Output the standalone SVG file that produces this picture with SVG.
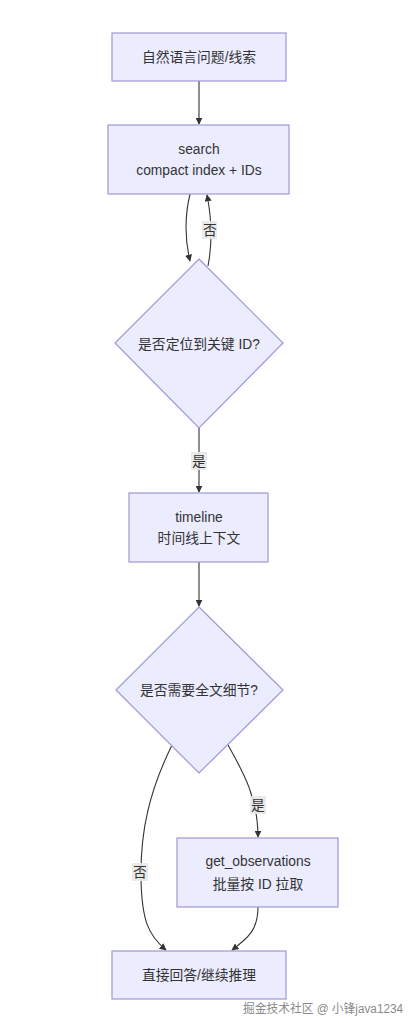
<svg xmlns="http://www.w3.org/2000/svg" width="418" height="1028" viewBox="0 0 418 1028">
<style>
.node rect,.node polygon{fill:#ECECFF;stroke:#9E96D6;stroke-width:1.2}
.t{font-family:"Liberation Sans","Noto Sans CJK SC",sans-serif;font-size:13.8px;fill:#333;text-anchor:middle;dominant-baseline:central}
.e{fill:none;stroke:#333;stroke-width:1.1;marker-end:url(#arr)}
.lb{fill:#e8e8e8;opacity:0.9}
.wm{font-family:"Liberation Sans","Noto Sans CJK SC",sans-serif;font-size:12.5px;fill:#8a8a8a}
</style>
<defs>
<marker id="arr" viewBox="0 0 10 10" refX="9" refY="5" markerWidth="7" markerHeight="7" orient="auto-start-reverse" markerUnits="userSpaceOnUse">
<path d="M0,0 L10,5 L0,10 z" fill="#333"/>
</marker>
</defs>
<rect width="418" height="1028" fill="#fff"/>
<g id="connectors">
<path class="e" d="M199,81 L199,124"/>
<path class="e" d="M190,194 C185,215 185,240 190,261"/>
<path class="e" d="M208,266 C212,245 212,220 207,195"/>
<path class="e" d="M199,428 L199,492"/>
<path class="e" d="M199,562 L199,606"/>
<path class="e" d="M228,745 C245,775 258,800 258,837"/>
<path class="e" d="M172,745 C150,790 140,830 141,880 C142,920 148,935 166,950"/>
<path class="e" d="M258,907 C258,930 248,938 232,950"/>
<rect class="lb" x="202" y="221" width="15" height="18"/>
<text class="t" x="210" y="230">否</text>
<rect class="lb" x="191" y="452" width="16" height="18"/>
<text class="t" x="199" y="461">是</text>
<rect class="lb" x="250" y="796" width="16" height="18"/>
<text class="t" x="258" y="805">是</text>
<rect class="lb" x="132" y="863" width="16" height="18"/>
<text class="t" x="140" y="872">否</text>
</g>
<g id="n1" class="node">
<rect x="112" y="33" width="174" height="48"/>
<text class="t" x="199" y="57">自然语言问题/线索</text>
</g>
<g id="n2" class="node">
<rect x="108" y="125" width="181" height="69"/>
<text class="t" x="199" y="149">search</text>
<text class="t" x="199" y="170">compact index + IDs</text>
</g>
<g id="n3" class="node">
<polygon points="199,259 283,343 199,428 115,343"/>
<text class="t" x="199" y="344">是否定位到关键 ID?</text>
</g>
<g id="n4" class="node">
<rect x="129" y="493" width="139" height="69"/>
<text class="t" x="199" y="517">timeline</text>
<text class="t" x="199" y="538">时间线上下文</text>
</g>
<g id="n5" class="node">
<polygon points="199,607 283,690 199,773 116,690"/>
<text class="t" x="199" y="690">是否需要全文细节?</text>
</g>
<g id="n6" class="node">
<rect x="177" y="838" width="161" height="69"/>
<text class="t" x="258" y="861">get_observations</text>
<text class="t" x="258" y="884">批量按 ID 拉取</text>
</g>
<g id="n7" class="node">
<rect x="112" y="951" width="174" height="48"/>
<text class="t" x="199" y="975">直接回答/继续推理</text>
</g>
<text class="wm" x="243" y="1013" textLength="160" lengthAdjust="spacingAndGlyphs">掘金技术社区 @ 小锋java1234</text>
</svg>
